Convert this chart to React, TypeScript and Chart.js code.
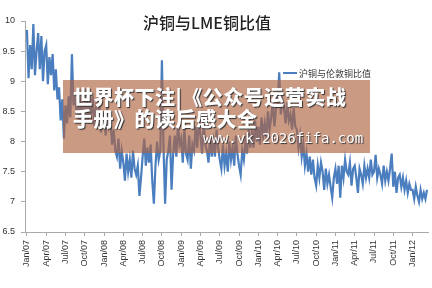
import React, { useEffect, useRef } from "react";
import { Chart, registerables } from "chart.js";

Chart.register(...registerables);

const chartTitle = "沪铜与LME铜比值";
const seriesLabel = "沪铜与伦敦铜比值";

const tickLabels = [
  "Jan/07", "Apr/07", "Jul/07", "Oct/07",
  "Jan/08", "Apr/08", "Jul/08", "Oct/08",
  "Jan/09", "Apr/09", "Jul/09", "Oct/09",
  "Jan/10", "Apr/10", "Jul/10", "Oct/10",
  "Jan/11", "Apr/11", "Jul/11", "Oct/11",
  "Jan/12",
];

// four readings per month
const ratio2007 = [
  9.85, 9.05, 9.6, 9.2,
  9.95, 9.1, 9.5, 9.8,
  9.2, 9.75, 9.0, 9.5,
  9.6, 8.95, 9.4, 9.1,
  9.45, 8.85, 9.2, 8.7,
  8.9, 8.35, 8.7, 8.05,
  8.6, 8.3, 8.75, 8.4,
  9.45, 8.6, 8.8, 8.4,
  8.6, 8.3, 8.75, 8.4,
  8.55, 8.85, 8.3, 8.65,
  8.45, 8.75, 8.25, 8.55,
  8.35, 8.65, 8.15, 8.45,
];

const ratio2008 = [
  8.45, 8.1, 8.6, 8.25,
  8.35, 7.95, 8.2, 7.85,
  7.75, 8.05, 7.55, 7.85,
  7.65, 7.35, 7.8, 7.5,
  7.7, 7.4, 7.85, 7.55,
  7.45, 7.6, 7.1, 7.4,
  7.75, 8.05, 7.6, 7.9,
  7.65, 7.95, 7.35, 6.97,
  7.6, 8.0, 7.7, 7.85,
  9.35, 7.9, 6.97, 7.7,
  7.85, 8.1, 7.2, 7.8,
  8.1, 7.75, 8.3, 7.95,
];

const ratio2009 = [
  8.05, 7.65, 8.2, 7.8,
  7.7, 8.1, 7.55, 7.95,
  7.85, 8.25, 7.9, 8.35,
  8.1, 7.8, 8.3, 7.95,
  7.85, 7.65, 8.1, 7.75,
  8.0, 7.75, 8.2, 7.9,
  7.7, 7.55, 7.95, 7.6,
  7.8, 7.5, 8.0, 7.7,
  7.9, 7.6, 8.1, 7.8,
  7.6, 7.45, 7.85, 7.7,
  8.0, 7.8, 8.2, 7.9,
  8.15, 7.9, 8.35, 8.0,
];

const ratio2010 = [
  8.25, 7.95, 8.4, 8.1,
  8.3, 8.05, 8.5, 8.2,
  8.4, 8.65, 8.25, 8.55,
  8.6, 9.15, 8.45, 8.7,
  8.55, 8.3, 8.65, 8.35,
  8.45, 8.2, 8.55, 8.25,
  8.2, 7.9, 8.1, 7.75,
  7.95, 7.6, 7.8, 7.5,
  7.75, 7.45, 7.7, 7.4,
  7.27, 7.6, 7.4, 7.65,
  7.5, 7.2, 7.55, 7.3,
  7.45, 7.25, 7.07, 7.4,
];

const ratio2011 = [
  7.55, 7.3, 7.6, 7.07,
  7.6, 7.4, 7.7, 7.5,
  7.45, 7.65, 7.27, 7.55,
  7.6, 7.4, 7.15, 7.55,
  7.45, 7.3, 7.6, 7.4,
  7.55, 7.4, 7.7, 7.45,
  7.5, 7.78, 7.4, 7.55,
  7.45, 7.3, 7.6, 7.35,
  7.5, 7.35, 7.55, 7.8,
  7.25, 7.5, 7.15, 7.4,
  7.45, 7.25, 7.4, 7.2,
  7.35, 7.15, 7.3, 7.2,
];

const ratio2012 = [
  7.2, 7.05, 7.25, 7.1,
  7.0, 7.2, 7.05, 7.15,
  7.05, 7.2,
];

const allRatios = [
  ...ratio2007, ...ratio2008, ...ratio2009,
  ...ratio2010, ...ratio2011, ...ratio2012,
];

const LINE_COLOR = "#4a7ebf";

export default function App() {
  const canvasRef = useRef<HTMLCanvasElement | null>(null);

  useEffect(() => {
    if (!canvasRef.current) return;
    const points = allRatios.map((v, i) => ({ x: i / 4, y: v }));
    const chart = new Chart(canvasRef.current, {
      type: "line",
      data: {
        datasets: [
          {
            label: seriesLabel,
            data: points,
            borderColor: LINE_COLOR,
            borderWidth: 2.2,
            pointRadius: 0,
            tension: 0,
            fill: false,
          },
        ],
      },
      options: {
        animation: false,
        responsive: false,
        devicePixelRatio: 1,
        layout: { padding: { top: 21, right: 4, left: 0, bottom: 0 } },
        plugins: {
          legend: { display: false },
          title: { display: false },
          tooltip: { enabled: false },
        },
        scales: {
          x: {
            type: "linear",
            min: -0.3,
            max: 62.4,
            afterBuildTicks: (scale: any) => {
              scale.ticks = tickLabels.map((_, i) => ({ value: i * 3 }));
            },
            afterFit: (scale: any) => {
              scale.height = 56;
            },
            ticks: {
              autoSkip: false,
              minRotation: 90,
              maxRotation: 90,
              padding: 4,
              color: "#333",
              font: { family: "Liberation Sans", size: 9 },
              callback: (_v: any, i: number) => tickLabels[i],
            },
            grid: {
              drawOnChartArea: false,
              drawTicks: true,
              tickLength: 4,
              color: "#aaa",
            },
            border: { display: true, color: "#aaa" },
          },
          y: {
            min: 6.5,
            max: 10,
            afterFit: (scale: any) => {
              scale.width = 25;
            },
            ticks: {
              stepSize: 0.5,
              padding: 6,
              color: "#333",
              font: { family: "Liberation Sans", size: 9 },
              callback: (v: any) => String(Number(v)),
            },
            grid: {
              drawOnChartArea: false,
              drawTicks: true,
              tickLength: 4,
              color: "#aaa",
            },
            border: { display: true, color: "#aaa" },
          },
        },
      },
    });
    return () => chart.destroy();
  }, []);

  return (
    <div
      style={{
        position: "fixed",
        left: 0,
        top: 0,
        width: 432,
        height: 288,
        background: "#fff",
        overflow: "hidden",
      }}
    >
      <canvas
        ref={canvasRef}
        width={432}
        height={288}
        style={{ position: "absolute", left: 0, top: 0, width: 432, height: 288 }}
      />
      <div
        style={{
          position: "absolute",
          left: -9,
          top: 12,
          width: 432,
          textAlign: "center",
          fontFamily: "'Noto Sans CJK SC', sans-serif",
          fontSize: 16,
          fontWeight: 500,
          color: "#222",
          lineHeight: "20px",
        }}
      >
        {chartTitle}
      </div>
      <div
        style={{
          position: "absolute",
          left: 283,
          top: 67,
          height: 12,
          display: "flex",
          alignItems: "center",
          fontFamily: "'Noto Sans CJK SC', sans-serif",
          fontSize: 9,
          color: "#333",
          whiteSpace: "nowrap",
        }}
      >
        <span
          style={{
            display: "inline-block",
            width: 14,
            height: 2,
            background: LINE_COLOR,
            marginRight: 2,
          }}
        />
        {seriesLabel}
      </div>
      <div
        style={{
          position: "absolute",
          left: 63,
          top: 80,
          width: 307,
          height: 73,
          background: "rgba(175,100,65,0.65)",
        }}
      />
      <div
        style={{
          position: "absolute",
          left: 73,
          top: 86,
          fontFamily: "'Noto Sans CJK SC', sans-serif",
          fontWeight: 900,
          fontSize: 20,
          lineHeight: "22px",
          color: "#fff",
          textShadow: "1px 1px 1px #333",
          whiteSpace: "nowrap",
          letterSpacing: 0.5,
        }}
      >
        <div>世界杯下注|《公众号运营实战</div>
        <div>手册》的读后感大全</div>
      </div>
      <div
        style={{
          position: "absolute",
          left: 203,
          top: 130,
          fontFamily: "'DejaVu Sans Mono', monospace",
          fontSize: 14,
          lineHeight: "16px",
          color: "#fff",
          textShadow: "1px 1px 1px #333",
          whiteSpace: "nowrap",
        }}
      >
        www.vk-2026fifa.com
      </div>
    </div>
  );
}
